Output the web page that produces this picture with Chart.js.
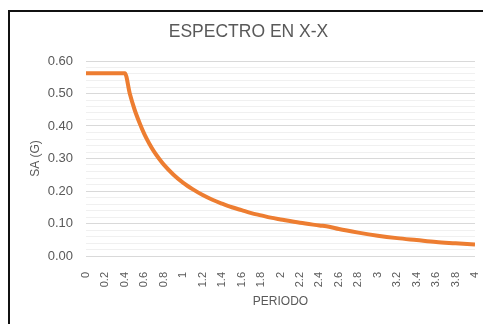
<!DOCTYPE html>
<html>
<head>
<meta charset="utf-8">
<script src="https://cdn.jsdelivr.net/npm/chart.js@4"></script>
<style>
  html, body { margin: 0; padding: 0; background: #fff; }
  #frame { position: absolute; left: 8px; top: 10px; width: 475px; height: 314px;
           border-left: 2px solid #111; border-top: 2px solid #111; }
  #wrap { position: absolute; left: 0; top: 0; width: 473px; height: 312px; }
</style>
</head>
<body>
<div id="frame"><div id="wrap"><canvas id="espectro"></canvas></div></div>
<script>
// periodo T (s) y aceleracion espectral Sa (g)
const periodos = [0, 0.1, 0.2, 0.3, 0.4, 0.45, 0.5, 0.55, 0.6, 0.65, 0.7, 0.75, 0.8, 0.9, 1.0,
  1.1, 1.2, 1.3, 1.4, 1.5, 1.6, 1.7, 1.8, 1.9, 2.0, 2.2, 2.4, 2.5, 2.6, 2.8, 3.0, 3.2, 3.4, 3.6, 3.8, 4.0];
const sa = [0.5625, 0.5625, 0.5625, 0.5625, 0.5625, 0.50, 0.45, 0.41, 0.375, 0.346, 0.321, 0.30, 0.281, 0.25, 0.225,
  0.205, 0.1875, 0.173, 0.161, 0.15, 0.141, 0.132, 0.125, 0.118, 0.1125, 0.102, 0.094, 0.09, 0.083, 0.072, 0.0625, 0.055, 0.049, 0.043, 0.039, 0.035];

const gris = '#595959';
const fuente = "'Liberation Sans', Arial, sans-serif";

document.addEventListener("DOMContentLoaded", function () {
  const ctx = document.getElementById('espectro').getContext('2d');
  new Chart(ctx, {
    type: 'line',
    data: {
      datasets: [{
        label: 'Sa',
        data: periodos.map((t, i) => ({ x: t, y: sa[i] })),
        borderColor: '#ED7D31',
        borderWidth: 4,
        pointRadius: 0,
        cubicInterpolationMode: 'monotone',
        fill: false
      }]
    },
    options: {
      responsive: true,
      maintainAspectRatio: false,
      animation: false,
      layout: { padding: { left: 4, right: 0, top: 2, bottom: 8 } },
      plugins: {
        legend: { display: false },
        tooltip: { enabled: false },
        title: {
          display: true,
          text: 'ESPECTRO EN X-X',
          color: gris,
          font: { family: fuente, size: 17.5, weight: 'normal' },
          padding: { top: 8, bottom: 18 }
        }
      },
      scales: {
        x: {
          type: 'linear',
          min: 0,
          max: 4,
          grid: { display: false },
          border: { display: false },
          afterFit: s => { s.paddingRight = 8; s.height = 60; },
          ticks: {
            stepSize: 0.2,
            autoSkip: false,
            maxRotation: 90,
            minRotation: 90,
            color: gris,
            font: { family: fuente, size: 11 },
            padding: 8,
            callback: v => String(+v.toFixed(1))
          },
          title: {
            display: true,
            text: 'PERIODO',
            color: gris,
            font: { family: fuente, size: 12 },
            padding: { top: 4, bottom: 7 }
          }
        },
        y: {
          min: 0,
          max: 0.6,
          border: { display: false },
          afterFit: s => { s.width = 72; },
          grid: {
            drawTicks: false,
            color: c => (Math.round(c.tick.value * 100) % 10 === 0) ? '#d9d9d9' : '#f0f0f0',
            lineWidth: 1
          },
          ticks: {
            stepSize: 0.02,
            autoSkip: false,
            color: gris,
            font: { family: fuente, size: 13 },
            padding: 13,
            callback: v => (Math.round(v * 100) % 10 === 0) ? v.toFixed(2) : ''
          },
          title: {
            display: true,
            text: 'SA (G)',
            color: gris,
            font: { family: fuente, size: 12 },
            padding: { top: 14, bottom: 0 }
          }
        }
      }
    }
  });
});
</script>
</body>
</html>
